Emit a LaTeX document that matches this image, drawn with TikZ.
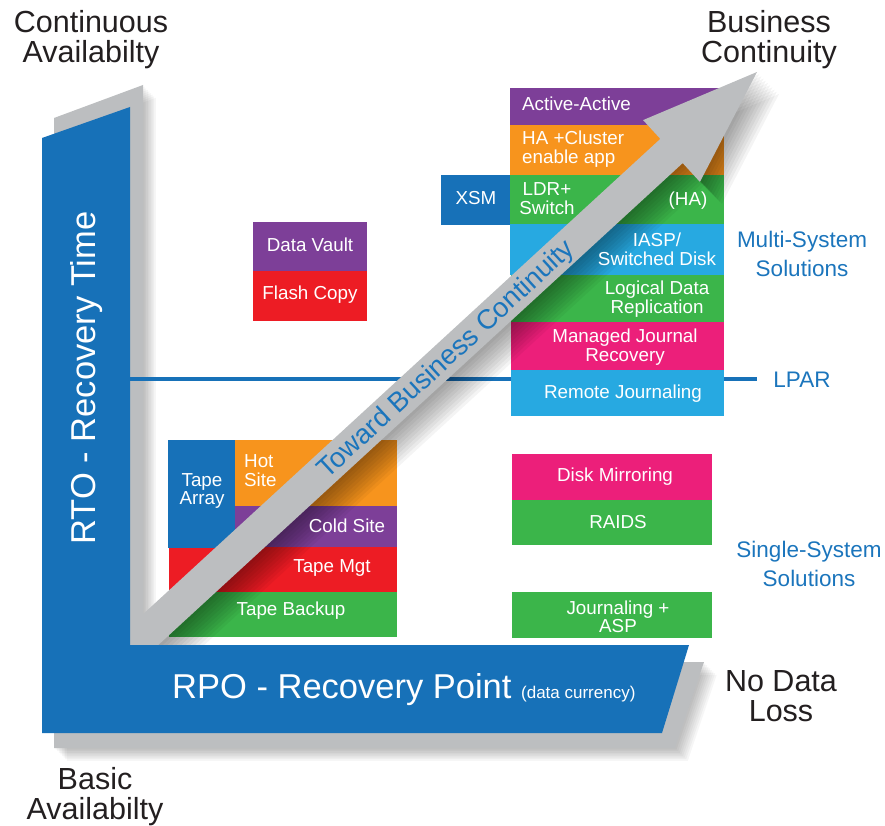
\documentclass[tikz,border=0pt]{standalone}
\usepackage{fontspec}
\setmainfont{Liberation Sans}
\definecolor{Lblue}{HTML}{1771B8}
\definecolor{Lgray}{HTML}{BCBEC0}
\definecolor{cpurple}{HTML}{7D3F98}
\definecolor{corange}{HTML}{F7941D}
\definecolor{cgreen}{HTML}{3BB54A}
\definecolor{clight}{HTML}{27A9E1}
\definecolor{cmagenta}{HTML}{EC1F7A}
\definecolor{cred}{HTML}{ED1C24}
\definecolor{tblue}{HTML}{1B75BC}
\definecolor{tdark}{HTML}{231F20}
\def\arrowpath{(111.8,642.9) -- (660.3,138.9) -- (643.1,120.1) -- (757,72) -- (699.9,181.9) -- (682.7,163.1) -- (134.2,667.1) -- cycle}
\def\grayL{(54,118) -- (143,85) -- (143,662) -- (704,662) -- (675,748) -- (54,748) -- cycle}
\begin{document}
\begin{tikzpicture}[x=1pt,y=-1pt,
  box/.style={inner sep=0pt, outer sep=0pt, anchor=north west, draw=none},
  lbl/.style={text=white, font=\fontsize{18.8}{18.8}\selectfont, inner sep=0pt, align=center},
  corner/.style={text=tdark, font=\fontsize{30.5}{30}\selectfont, inner sep=0pt, align=center},
  side/.style={text=tblue, font=\fontsize{22.5}{29}\selectfont, inner sep=0pt, align=center},
  axis/.style={text=white, inner sep=0pt, font=\fontsize{34.5}{34.5}\selectfont}]
\useasboundingbox (0,0) rectangle (885,826);
% gray L soft shadow
\foreach \k in {1,...,8} {\fill[black, opacity=0.035, shift={(\k*1.6,\k*1.6)}] \grayL;}
\fill[Lgray] \grayL;
% LPAR line
\draw[Lblue, line width=4pt] (130,379) coordinate (lpA) -- (757,379) coordinate (lpB);
% multi-system column
\node[box, fill=cpurple, minimum width=214pt, minimum height=37pt] (aa) at (510,88) {};
\node[box, fill=corange, minimum width=214pt, minimum height=50pt] (ha) at (510,125) {};
\node[box, fill=cgreen, minimum width=214pt, minimum height=49pt] (ldr) at (510,175) {};
\node[box, fill=Lblue, minimum width=69pt, minimum height=50pt] (xsm) at (441,175) {};
\node[box, fill=clight, minimum width=214pt, minimum height=51pt] (iasp) at (510,224) {};
\node[box, fill=cgreen, minimum width=213pt, minimum height=47pt] (ldrep) at (511,275) {};
\node[box, fill=cmagenta, minimum width=213pt, minimum height=48pt] (mjr) at (511,322) {};
\node[box, fill=clight, minimum width=213pt, minimum height=46pt] (rj) at (511,370) {};
% single-system
\node[box, fill=cmagenta, minimum width=200pt, minimum height=46pt] (dm) at (512,454) {};
\node[box, fill=cgreen, minimum width=200pt, minimum height=45pt] (raid) at (512,500) {};
\node[box, fill=cgreen, minimum width=200pt, minimum height=46pt] (jasp) at (512,592) {};
% middle
\node[box, fill=cpurple, minimum width=114pt, minimum height=49pt] (dv) at (253,222) {};
\node[box, fill=cred, minimum width=114pt, minimum height=50pt] (fc) at (253,271) {};
% bottom left group
\node[box, fill=corange, minimum width=162pt, minimum height=66pt] (hot) at (235,440) {};
\node[box, fill=cpurple, minimum width=162pt, minimum height=41pt] (cold) at (235,506) {};
\node[box, fill=cred, minimum width=228pt, minimum height=45pt] (tm) at (169,547) {};
\node[box, fill=Lblue, minimum width=67pt, minimum height=108pt] (ta) at (168,440) {};
\node[box, fill=cgreen, minimum width=228pt, minimum height=45pt] (tb) at (169,592) {};
% arrow shadow
\foreach \k in {1,...,10} {\fill[black, opacity=0.045, shift={(\k*2.2,\k*2.2)}] \arrowpath;}
% box labels
\node[lbl, anchor=west] (aat) at (522,104) {Active-Active};
\node[lbl, anchor=west, align=left] (hat) at (522,149) {HA +Cluster\\enable app};
\node[lbl] (ldrt) at (547,199) {LDR+\\Switch};
\node[lbl] (hat2) at (688,201) {(HA)};
\node[lbl] (xsmt) at (476,198) {XSM};
\node[lbl] (iaspt) at (657,249) {IASP/\\Switched Disk};
\node[lbl] (ldrept) at (657,299) {Logical Data\\Replication};
\node[lbl] (mjrt) at (625,347) {Managed Journal\\Recovery};
\node[lbl] (rjt) at (623,394) {Remote Journaling};
\node[lbl] (dmt) at (615,477) {Disk Mirroring};
\node[lbl] (raidt) at (618,522) {RAIDS};
\node[lbl, font=\fontsize{18.8}{17}\selectfont] (jaspt) at (618,617) {Journaling +\\ASP};
\node[lbl] (dvt) at (310,245) {Data Vault};
\node[lbl] (fct) at (310,295) {Flash Copy};
\node[lbl] (tat) at (202,491) {Tape\\Array};
\node[lbl, anchor=west, align=left] (hott) at (244,471) {Hot\\Site};
\node[lbl] (coldt) at (347,526) {Cold Site};
\node[lbl] (tmt) at (332,568) {Tape Mgt};
\node[lbl] (tbt) at (291,611) {Tape Backup};
% arrow
\fill[Lgray] \arrowpath;
\node[text=tblue, font=\fontsize{27.5}{27.5}\selectfont, rotate=42.6, inner sep=0pt] (toward) at (447,360) {Toward Business Continuity};
% blue L
\fill[Lblue] (42,138) -- (130,107) -- (130,645) -- (689,645) -- (662,733) -- (42,733) -- cycle;
\node[axis, rotate=90] (rto) at (87,378) {RTO - Recovery Time};
\node[axis, anchor=base west] (rpo) at (172,698) {RPO - Recovery Point {\fontsize{17}{17}\selectfont (data currency)}};
% side labels
\node[side] (multi) at (802,254) {Multi-System\\Solutions};
\node[side] (single) at (809,564) {Single-System\\Solutions};
\node[side] (lpar) at (802,380) {LPAR};
% corner labels
\node[corner] (ca) at (91,40) {Continuous\\Availabilty};
\node[corner] (bc) at (769,40) {Business\\Continuity};
\node[corner] (ba) at (95,797) {Basic\\Availabilty};
\node[corner] (nd) at (781,696) {No Data\\Loss};
\end{tikzpicture}
\end{document}
